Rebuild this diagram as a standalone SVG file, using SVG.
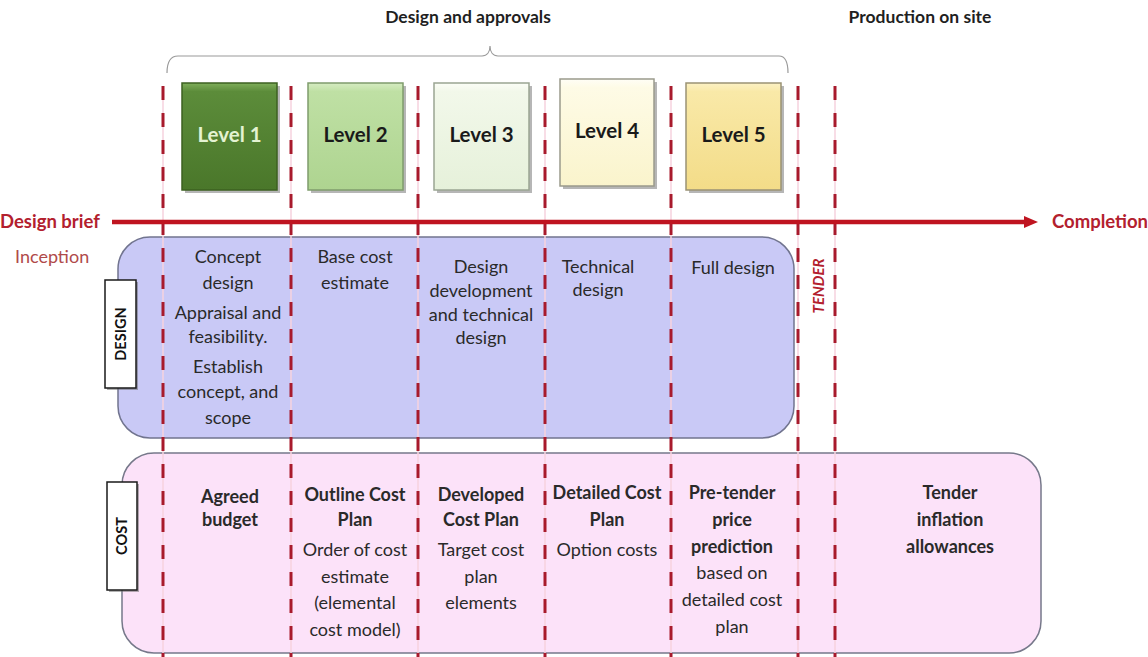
<svg xmlns="http://www.w3.org/2000/svg" width="1148" height="657" viewBox="0 0 1148 657">
<defs>
<style>
text{font-family:Lato,"Liberation Sans",sans-serif;}
.t{font-size:18px;fill:#2a2a2a;text-anchor:middle;}
.b{font-weight:bold;}
.h{font-size:17.5px;font-weight:bold;fill:#1f1f1f;text-anchor:middle;}
.red{font-size:18.5px;font-weight:bold;fill:#b3202e;}
.lvl{font-size:20.5px;font-weight:bold;text-anchor:middle;fill:#1a1a1a;}
.lab{font-size:14.5px;font-weight:bold;fill:#111;text-anchor:middle;}
.sep{stroke:#a81a2c;stroke-width:3;stroke-dasharray:14 13;fill:none;}
.glow{stroke:#f6d2de;stroke-width:1.5;fill:none;}
.shadow{fill:#7a7a7a;opacity:0.55;}
</style>
<linearGradient id="g1" x1="0" y1="0" x2="0" y2="1"><stop offset="0" stop-color="#7fae5a"/><stop offset="0.08" stop-color="#5c8c3a"/><stop offset="1" stop-color="#4a772a"/></linearGradient>
<linearGradient id="g2" x1="0" y1="0" x2="0" y2="1"><stop offset="0" stop-color="#d6ecc2"/><stop offset="0.08" stop-color="#bfe0a4"/><stop offset="1" stop-color="#aed490"/></linearGradient>
<linearGradient id="g3" x1="0" y1="0" x2="0" y2="1"><stop offset="0" stop-color="#fbfdf7"/><stop offset="0.08" stop-color="#f2f8ea"/><stop offset="1" stop-color="#e6f1da"/></linearGradient>
<linearGradient id="g4" x1="0" y1="0" x2="0" y2="1"><stop offset="0" stop-color="#fffef6"/><stop offset="0.08" stop-color="#fefbe6"/><stop offset="1" stop-color="#faf4cc"/></linearGradient>
<linearGradient id="g5" x1="0" y1="0" x2="0" y2="1"><stop offset="0" stop-color="#fcf1c4"/><stop offset="0.08" stop-color="#f9e9a8"/><stop offset="1" stop-color="#f3dc88"/></linearGradient>
<marker id="arr" markerWidth="14" markerHeight="12" refX="2" refY="6" orient="auto" markerUnits="userSpaceOnUse"><path d="M0,0 L14,6 L0,12 Z" fill="#bf1420"/></marker>
</defs>
<rect width="1148" height="657" fill="#ffffff"/>

<text class="h" x="468" y="23">Design and approvals</text>
<text class="h" x="920" y="23">Production on site</text>

<g id="band-design">
<rect x="118" y="237" width="676" height="201" rx="32" ry="32" fill="#c9c9f6" stroke="#71748f" stroke-width="1.5"/>
</g>
<g id="band-cost">
<rect x="122" y="453" width="919" height="200" rx="32" ry="32" fill="#fce2f9" stroke="#76788a" stroke-width="1.5"/>
</g>

<g id="separators">
<path class="glow" d="M163,86V657M291,86V657M418,86V657M545,86V657M671,86V657M798,86V657M835,86V657"/>
<path class="sep" d="M163,86V657M291,86V657M418,86V657M545,86V657M671,86V657M798,86V657M835,86V657"/>
</g>

<g id="connectors">
<path d="M167,73 C167,62 170,56 178,56 L482,56 C487,56 490,52 490,46 C490,52 493,56 498,56 L779,56 C785,56 788,62 788,73" fill="none" stroke="#9a9a9a" stroke-width="1.2"/>
<line x1="112" y1="222" x2="1026" y2="222" stroke="#bf1420" stroke-width="4.5" marker-end="url(#arr)"/>
</g>

<text class="red" x="0" y="228">Design brief</text>
<text class="red" x="1148" y="228" text-anchor="end">Completion</text>
<text x="15" y="263" style="font-size:18px;fill:#b04a4a;">Inception</text>

<g id="level1">
<rect class="shadow" x="185" y="86" width="95" height="107"/>
<rect x="182" y="83" width="95" height="107" fill="url(#g1)" stroke="#3d6021" stroke-width="1.5"/>
<text class="lvl" x="229.5" y="142" style="fill:#e4f3d2">Level 1</text>
</g>
<g id="level2">
<rect class="shadow" x="311" y="86" width="95" height="107"/>
<rect x="308" y="83" width="95" height="107" fill="url(#g2)" stroke="#7f9c6c" stroke-width="1.5"/>
<text class="lvl" x="355.5" y="142">Level 2</text>
</g>
<g id="level3">
<rect class="shadow" x="437" y="86" width="95" height="107"/>
<rect x="434" y="83" width="95" height="107" fill="url(#g3)" stroke="#9aa592" stroke-width="1.5"/>
<text class="lvl" x="481.5" y="142">Level 3</text>
</g>
<g id="level4">
<rect class="shadow" x="563" y="82" width="94" height="107"/>
<rect x="560" y="79" width="94" height="107" fill="url(#g4)" stroke="#9a9a8c" stroke-width="1.5"/>
<text class="lvl" x="607" y="138">Level 4</text>
</g>
<g id="level5">
<rect class="shadow" x="689" y="86" width="95" height="107"/>
<rect x="686" y="83" width="95" height="107" fill="url(#g5)" stroke="#9a9274" stroke-width="1.5"/>
<text class="lvl" x="733.5" y="142">Level 5</text>
</g>

<g id="label-design">
<rect x="107" y="282" width="31" height="108" fill="#666" opacity="0.5"/>
<rect x="105" y="280" width="31" height="108" fill="#ffffff" stroke="#1a1a1a" stroke-width="1.5"/>
<text class="lab" transform="translate(126,334) rotate(-90)">DESIGN</text>
</g>
<g id="label-cost">
<rect x="109" y="484" width="30" height="108" fill="#666" opacity="0.5"/>
<rect x="107" y="482" width="30" height="108" fill="#ffffff" stroke="#1a1a1a" stroke-width="1.5"/>
<text class="lab" transform="translate(127,536) rotate(-90)">COST</text>
</g>
<g id="label-tender">
<text transform="translate(824,286) rotate(-90)" style="font-size:15px;font-weight:bold;font-style:italic;fill:#b3202e;text-anchor:middle;">TENDER</text>
</g>

<g id="design-1">
<text class="t" x="228" y="263">Concept</text>
<text class="t" x="228" y="289">design</text>
<text class="t" x="228" y="319">Appraisal and</text>
<text class="t" x="228" y="343">feasibility.</text>
<text class="t" x="228" y="373">Establish</text>
<text class="t" x="228" y="398">concept, and</text>
<text class="t" x="228" y="424">scope</text>
</g>
<g id="design-2">
<text class="t" x="355" y="263">Base cost</text>
<text class="t" x="355" y="289">estimate</text>
</g>
<g id="design-3">
<text class="t" x="481" y="273">Design</text>
<text class="t" x="481" y="297">development</text>
<text class="t" x="481" y="321">and technical</text>
<text class="t" x="481" y="344">design</text>
</g>
<g id="design-4">
<text class="t" x="598" y="273">Technical</text>
<text class="t" x="598" y="296">design</text>
</g>
<g id="design-5">
<text class="t" x="733" y="274">Full design</text>
</g>

<g id="cost-1">
<text class="t b" x="230" y="503">Agreed</text>
<text class="t b" x="230" y="526">budget</text>
</g>
<g id="cost-2">
<text class="t b" x="355" y="501">Outline Cost</text>
<text class="t b" x="355" y="526">Plan</text>
<text class="t" x="355" y="556">Order of cost</text>
<text class="t" x="355" y="583">estimate</text>
<text class="t" x="355" y="609">(elemental</text>
<text class="t" x="355" y="636">cost model)</text>
</g>
<g id="cost-3">
<text class="t b" x="481" y="501">Developed</text>
<text class="t b" x="481" y="526">Cost Plan</text>
<text class="t" x="481" y="556">Target cost</text>
<text class="t" x="481" y="583">plan</text>
<text class="t" x="481" y="609">elements</text>
</g>
<g id="cost-4">
<text class="t b" x="607" y="499">Detailed Cost</text>
<text class="t b" x="607" y="526">Plan</text>
<text class="t" x="607" y="556">Option costs</text>
</g>
<g id="cost-5">
<text class="t b" x="732" y="499">Pre-tender</text>
<text class="t b" x="732" y="526">price</text>
<text class="t b" x="732" y="553">prediction</text>
<text class="t" x="732" y="579">based on</text>
<text class="t" x="732" y="606">detailed cost</text>
<text class="t" x="732" y="633">plan</text>
</g>
<g id="cost-6">
<text class="t b" x="950" y="499">Tender</text>
<text class="t b" x="950" y="526">inflation</text>
<text class="t b" x="950" y="553">allowances</text>
</g>
</svg>
